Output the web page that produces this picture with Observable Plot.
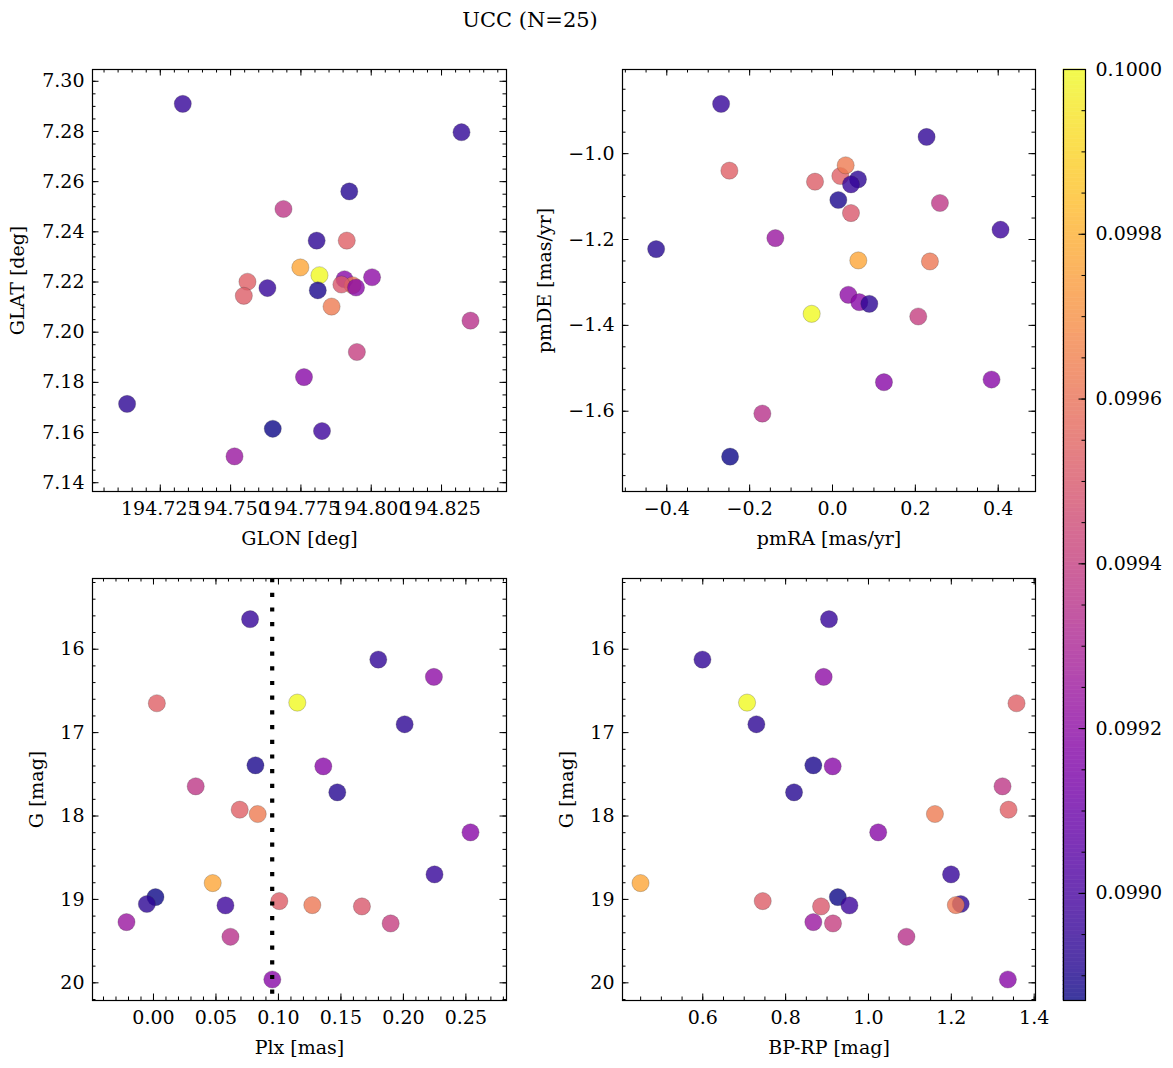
<!DOCTYPE html>
<html><head><meta charset="utf-8">
<script src="https://cdn.jsdelivr.net/npm/d3@7"></script>
<script src="https://cdn.jsdelivr.net/npm/@observablehq/plot@0.6"></script>
<style>
body{margin:0;background:#fff;}
#fig{position:relative;width:1173px;height:1068px;font-family:"DejaVu Serif",serif;overflow:hidden;}
#fig > .p{position:absolute;}
#title{position:absolute;left:0;width:1060px;top:8px;line-height:24px;text-align:center;font-size:21px;color:#000;}
svg text{font-family:"DejaVu Serif",serif;}
</style></head><body>
<div id="fig"><div id="title">UCC (N=25)</div></div>
<script>
// ---- data (one entry per member star) ----
const glon = [194.7330, 194.8321, 194.8003, 194.7913, 194.7816, 194.7806, 194.7810, 194.7905, 194.7688, 194.7922, 194.7560, 194.7859, 194.7761, 194.7631, 194.7748, 194.7650, 194.7132, 194.7825, 194.7547, 194.7934, 194.7894, 194.7514, 194.7949, 194.8353, 194.7946];
const glat = [7.2910, 7.2797, 7.2219, 7.2365, 7.2227, 7.2365, 7.2167, 7.2211, 7.2491, 7.2561, 7.2201, 7.2102, 7.1821, 7.2176, 7.2258, 7.1615, 7.1714, 7.1606, 7.2145, 7.2187, 7.2190, 7.1505, 7.1921, 7.2046, 7.2178];
const pmra = [-0.2689, 0.2271, 0.0382, -0.2489, -0.0503, 0.0615, 0.0141, 0.0647, 0.2593, -0.4257, 0.0189, 0.0318, 0.1242, 0.0446, 0.0623, -0.2472, 0.0889, 0.4056, -0.0422, 0.2352, 0.0446, -0.1379, 0.2070, -0.1693, 0.3839];
const pmde = [-0.8842, -0.9611, -1.3288, -1.0396, -1.3731, -1.0598, -1.1080, -1.3459, -1.1150, -1.2223, -1.0521, -1.0272, -1.5324, -1.0715, -1.2487, -1.7058, -1.3498, -1.1772, -1.0653, -1.2511, -1.1384, -1.1967, -1.3793, -1.6055, -1.5262];
const plx  = [0.0773, 0.1799, 0.2244, 0.0027, 0.1151, 0.2010, 0.0816, 0.1359, 0.0338, 0.1471, 0.0690, 0.0834, 0.2537, 0.2249, 0.0474, 0.0016, -0.0053, 0.0576, 0.1007, 0.1271, 0.1668, -0.0216, 0.1898, 0.0616, 0.0951];
const gmag = [15.64, 16.124, 16.332, 16.648, 16.64, 16.90, 17.392, 17.404, 17.644, 17.716, 17.924, 17.976, 18.196, 18.70, 18.804, 18.972, 19.055, 19.072, 19.02, 19.068, 19.084, 19.272, 19.288, 19.448, 19.96];
const bprp = [0.9047, 0.5992, 0.8918, 1.3574, 0.7069, 0.7294, 0.8669, 0.9136, 1.3236, 0.8203, 1.3381, 1.1604, 1.0235, 1.1993, 0.4497, 0.9260, 1.2227, 0.9541, 0.7447, 1.2109, 0.8855, 0.8669, 0.9143, 1.0916, 1.3365];
const prob = [0.09895, 0.09894, 0.09920, 0.09953, 0.10000, 0.09893, 0.09889, 0.09918, 0.09937, 0.09891, 0.09953, 0.09963, 0.09918, 0.09895, 0.09977, 0.09887, 0.09893, 0.09897, 0.09952, 0.09962, 0.09950, 0.09924, 0.09940, 0.09935, 0.09918];
const plxRef = [0.095];

// ---- axis limits and tick labels ----
const glonLim = [194.7009, 194.8481], glatLim = [7.1365, 7.3047];
const pmraLim = [-0.5069, 0.4900], pmdeLim = [-1.787, -0.804];
const plxLim = [-0.0488, 0.2825], bprpLim = [0.4062, 1.4032], gLim = [15.152, 20.212];
const glonTicks = [194.725, 194.750, 194.775, 194.800, 194.825];
const glatTicks = [7.14, 7.16, 7.18, 7.20, 7.22, 7.24, 7.26, 7.28, 7.30];
const pmraTicks = [-0.4, -0.2, 0.0, 0.2, 0.4];
const pmdeTicks = [-1.6, -1.4, -1.2, -1.0];
const plxTicks = [0.00, 0.05, 0.10, 0.15, 0.20, 0.25];
const bprpTicks = [0.6, 0.8, 1.0, 1.2, 1.4];
const gTicks = [16, 17, 18, 19, 20];
const cbTicks = [0.0990, 0.0992, 0.0994, 0.0996, 0.0998, 0.1000];

const rows = prob.map((p, i) => ({glon: glon[i], glat: glat[i], pmra: pmra[i], pmde: pmde[i], plx: plx[i], g: gmag[i], bprp: bprp[i], p}));
const pDomain = d3.extent(prob);
const colorOpt = {type: "linear", scheme: "plasma", domain: pDomain};
const FONT = "DejaVu Serif";
const FS = "19px";

function minorTicks(lim, step) {
  const lo = Math.ceil(lim[0] / step - 1e-9), hi = Math.floor(lim[1] / step + 1e-9);
  return d3.range(lo, hi + 1).map(k => +(k * step).toFixed(8));
}

function panel(o) {
  const W = 530, H = o.H, mt = 69, mb = o.mb, ml = 92, mr = o.mr;
  const iw = W - ml - mr, ih = H - mt - mb;
  const xm = minorTicks(o.xLim, o.xMinor), ym = minorTicks(o.yLim, o.yMinor);
  const MAJ = 6.5, MIN = 3.5;
  const tk = {stroke: "black", strokeWidth: 1};
  return Plot.plot({
    width: W, height: H, marginTop: mt, marginBottom: mb, marginLeft: ml, marginRight: mr,
    style: {fontFamily: FONT, fontSize: FS, background: "transparent", overflow: "visible", color: "black"},
    x: {domain: o.xLim},
    y: {domain: o.yLim, reverse: !!o.yReverse},
    color: colorOpt,
    marks: [
      Plot.dot(rows, {x: o.x, y: o.y, fill: "p", r: 8.6, fillOpacity: 0.8, stroke: "#333", strokeOpacity: 0.35, strokeWidth: 0.7}),
      ...(o.extra || []),
      Plot.frame({stroke: "black", strokeWidth: 1.2}),
      // minor ticks (inward, all sides)
      Plot.tickX(xm, {x: d => d, insetTop: ih - MIN, ...tk}),
      Plot.tickX(xm, {x: d => d, insetBottom: ih - MIN, ...tk}),
      Plot.tickY(ym, {y: d => d, insetRight: iw - MIN, ...tk}),
      Plot.tickY(ym, {y: d => d, insetLeft: iw - MIN, ...tk}),
      // major ticks
      Plot.tickX(o.xTicks, {x: d => d, insetTop: ih - MAJ, ...tk}),
      Plot.tickX(o.xTicks, {x: d => d, insetBottom: ih - MAJ, ...tk}),
      Plot.tickY(o.yTicks, {y: d => d, insetRight: iw - MAJ, ...tk}),
      Plot.tickY(o.yTicks, {y: d => d, insetLeft: iw - MAJ, ...tk}),
      Plot.axisX(o.xTicks, {anchor: "bottom", tickSize: 0, tickPadding: 10, tickFormat: o.xFmt, label: o.xLabel, labelAnchor: "center", labelArrow: false, labelOffset: o.xLabelOffset}),
      Plot.axisY(o.yTicks, {anchor: "left", tickSize: 0, tickPadding: 8, tickFormat: o.yFmt, label: o.yLabel, labelAnchor: "center", labelArrow: false, labelOffset: o.yLabelOffset})
    ]
  });
}

function place(svg, left, top) {
  const d = document.createElement("div");
  d.className = "p"; d.style.left = left + "px"; d.style.top = top + "px";
  d.appendChild(svg);
  document.getElementById("fig").appendChild(d);
}

place(panel({x: "glon", y: "glat", xLim: glonLim, yLim: glatLim, xTicks: glonTicks, yTicks: glatTicks,
  xMinor: 0.005, yMinor: 0.005, xFmt: d3.format(".3f"), yFmt: d3.format(".2f"),
  xLabel: "GLON [deg]", yLabel: "GLAT [deg]", xLabelOffset: 53, yLabelOffset: 82, H: 560, mb: 69, mr: 24}), 0, 0);

place(panel({x: "pmra", y: "pmde", xLim: pmraLim, yLim: pmdeLim, xTicks: pmraTicks, yTicks: pmdeTicks,
  xMinor: 0.05, yMinor: 0.05, xFmt: d3.format(".1f"), yFmt: d3.format(".1f"),
  xLabel: "pmRA [mas/yr]", yLabel: "pmDE [mas/yr]", xLabelOffset: 53, yLabelOffset: 85, H: 560, mb: 69, mr: 25}), 530, 0);

place(panel({x: "plx", y: "g", xLim: plxLim, yLim: gLim, xTicks: plxTicks, yTicks: gTicks, yReverse: true,
  xMinor: 0.01, yMinor: 0.2, xFmt: d3.format(".2f"), yFmt: d3.format("d"),
  xLabel: "Plx [mas]", yLabel: "G [mag]", xLabelOffset: 53, yLabelOffset: 63, H: 559, mb: 68, mr: 24,
  extra: [Plot.ruleX(plxRef, {x: d => d, stroke: "black", strokeWidth: 4.2, strokeDasharray: "4.2,10.5"})]}), 0, 509);

place(panel({x: "bprp", y: "g", xLim: bprpLim, yLim: gLim, xTicks: bprpTicks, yTicks: gTicks, yReverse: true,
  xMinor: 0.05, yMinor: 0.2, xFmt: d3.format(".1f"), yFmt: d3.format("d"),
  xLabel: "BP-RP [mag]", yLabel: "G [mag]", xLabelOffset: 53, yLabelOffset: 63, H: 559, mb: 68, mr: 25}), 530, 509);

// ---- colorbar ----
(function () {
  const N = 240;
  const steps = d3.range(N).map(i => [pDomain[0] + (pDomain[1] - pDomain[0]) * i / N, pDomain[0] + (pDomain[1] - pDomain[0]) * (i + 1) / N]);
  const cbMinor = minorTicks(pDomain, 0.00005);
  const W = 133, H = 1068, ml = 23, mr = 88, mt = 69, mb = 68, iw = W - ml - mr;
  const svg = Plot.plot({
    width: W, height: H, marginLeft: ml, marginRight: mr, marginTop: mt, marginBottom: mb,
    style: {fontFamily: FONT, fontSize: FS, background: "transparent", overflow: "visible", color: "black"},
    x: {domain: [0, 1], axis: null},
    y: {domain: pDomain},
    color: colorOpt,
    marks: [
      Plot.rect(steps, {x1: 0, x2: 1, y1: d => d[0], y2: d => d[1], fill: d => (d[0] + d[1]) / 2, stroke: d => (d[0] + d[1]) / 2, strokeWidth: 0.6}),
      Plot.frame({fill: "white", fillOpacity: 0.2, stroke: "black", strokeWidth: 1.2}),
      Plot.tickY(cbMinor, {y: d => d, insetLeft: iw - 3.5, stroke: "black"}),
      Plot.tickY(cbTicks, {y: d => d, insetLeft: iw - 6.5, stroke: "black"}),
      Plot.axisY(cbTicks, {anchor: "right", tickSize: 0, tickPadding: 10, tickFormat: d3.format(".4f"), label: null})
    ]
  });
  place(svg, 1040, 0);
})();
</script>
</body></html>
